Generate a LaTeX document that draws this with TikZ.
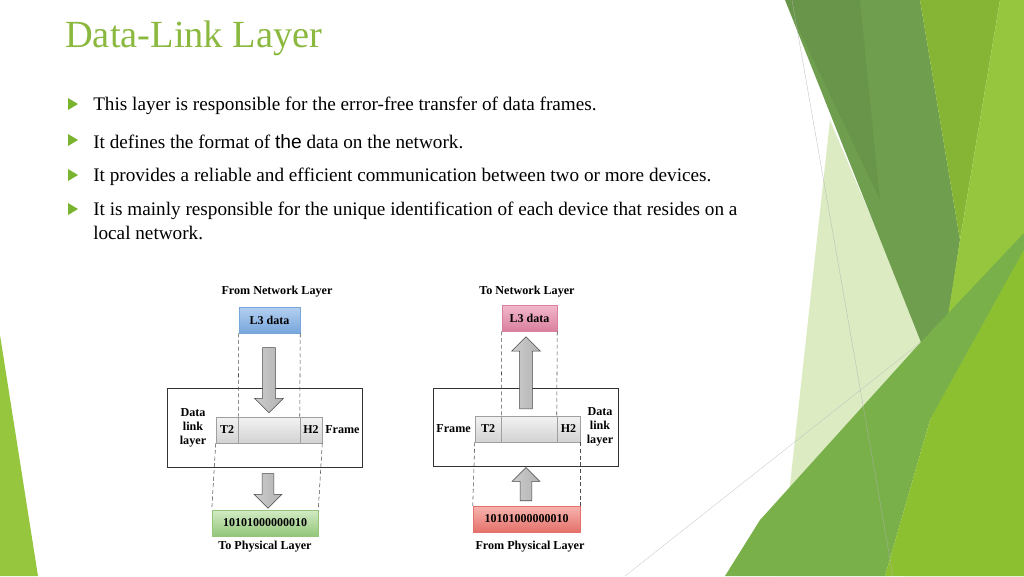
\documentclass[tikz,border=0pt]{standalone}
\usepackage{fontspec}
\setmainfont{Liberation Serif}
\usetikzlibrary{shapes.arrows}
\definecolor{titlegreen}{HTML}{8BB940}
\definecolor{bulletgreen}{HTML}{7AB32E}
\definecolor{bandpale}{HTML}{DCEBC2}
\definecolor{banddark}{HTML}{6E9E4E}
\definecolor{bandmid}{HTML}{86B535}
\definecolor{bandlime}{HTML}{96C63E}
\definecolor{bandlow}{HTML}{79B04A}
\definecolor{bandbright}{HTML}{8DC030}
\definecolor{bluetop}{HTML}{B4D0F0}
\definecolor{bluebot}{HTML}{77A6DC}
\definecolor{greentop}{HTML}{D3EBC4}
\definecolor{greenbot}{HTML}{93C67A}
\definecolor{pinktop}{HTML}{F2B8CC}
\definecolor{pinkbot}{HTML}{D9809F}
\definecolor{redtop}{HTML}{F8B4AE}
\definecolor{redbot}{HTML}{E4716B}
\tikzset{
x=0.75pt, y=-0.75pt, % one unit is one pixel of the slide
bullet/.style={anchor=west, font=\fontsize{14.4}{16}\selectfont, inner sep=0pt},
caption/.style={font=\bfseries\fontsize{9.1}{10.5}\selectfont, inner sep=0pt},
cell/.style={draw=gray!75, top color=gray!10, bottom color=gray!35, minimum height=19.5pt, inner sep=0pt, font=\bfseries\fontsize{9}{10}\selectfont},
databox/.style={draw=#1, minimum height=19.5pt, inner sep=0pt, font=\bfseries\fontsize{9}{10}\selectfont},
guide/.style={densely dashed, gray!60!black, thin},
fat arrow/.style={single arrow, draw=gray!55!black, left color=gray!40, right color=gray!60, inner sep=4.6pt, single arrow head extend=6pt, single arrow head indent=0pt},
}

\begin{document}
\begin{tikzpicture}
    \useasboundingbox (0,0) rectangle (1024,576);

    % slide decoration
    \fill[bandlime] (0,335) -- (38,576) -- (0,576) -- cycle;
    \fill[bandpale] (830,120) -- (925,345) -- (885,576) -- (780,576) -- cycle;
    \fill[banddark] (785,0) -- (920,0) -- (960,240) -- (938,385) -- cycle;
    \fill[black, opacity=0.05] (785,0) -- (860,0) -- (880,200) -- cycle;
    \fill[bandmid] (920,0) -- (1000,0) -- (960,240) -- cycle;
    \fill[bandlime] (1000,0) -- (1024,0) -- (1024,576) -- (905,576) -- (937,385) -- (960,240) -- cycle;
    \fill[bandlow] (760,520) -- (920,343) -- (1024,233) -- (1024,250) -- (930,420) -- (885,576) -- (725,576) -- cycle;
    \fill[bandbright] (1024,250) -- (1024,576) -- (885,576) -- (930,420) -- cycle;
    \draw[gray!60, very thin] (792,0) -- (893,576);
    \draw[gray!50, very thin] (625,576) -- (920,343);

    % title and bullet points
    \node[anchor=west, inner sep=0pt, text=titlegreen, font=\fontsize{28.8}{32}\selectfont] (title) at (65,38) {Data-Link Layer};
    \foreach \y/\txt [count=\i] in {104/{This layer is responsible for the error-free transfer of data frames.},
        140/{It defines the format of {\fontspec{Liberation Sans}the} data on the network.},
        175/{It provides a reliable and efficient communication between two or more devices.},
        209/{It is mainly responsible for the unique identification of each device that resides on a}}{
        \fill[bulletgreen] (68,\y-6) -- (78,\y) -- (68,\y+6) -- cycle;
        \node[bullet] (b\i) at (93,\y+1.5) {\txt};
    }
    \node[bullet] (b5) at (93,232.5) {local network.};

    % sending side
    \node[caption] (fromnet) at (277,292) {From Network Layer};
    \node[databox=bluebot, top color=bluetop, bottom color=bluebot, minimum width=45.75pt] (l3L) at (269.5,320) {L3 data};
    \draw[black!80] (167,388) rectangle (362,467);
    \node[cell, minimum width=79.5pt] (frameL) at (269,430) {};
    \node[cell, minimum width=16.5pt] (t2L) at (227,430) {T2};
    \node[cell, minimum width=16.5pt] (h2L) at (311,430) {H2};
    \node[caption, align=center] (dllL) at (193,428) {Data\\link\\layer};
    \node[caption, anchor=west] (frmL) at (325,430) {Frame};
    \node[databox=greenbot, top color=greentop, bottom color=greenbot, minimum width=79.5pt] (binL) at (265,523) {10101000000010};
    \node[caption] (tophy) at (265,547) {To Physical Layer};
    \node[fat arrow, minimum height=48.75pt, rotate=-90] (downA) at (269,377) {};
    \node[fat arrow, minimum height=26pt, rotate=-90, inner sep=4.2pt] (downB) at (268,488) {};
    \draw[guide] (l3L.south west) -- (t2L.north east);
    \draw[guide] (l3L.south east) -- (h2L.north west);
    \draw[guide] (t2L.south west) -- (binL.north west);
    \draw[guide] (h2L.south east) -- (binL.north east);

    % receiving side
    \node[caption] (tonet) at (527,292) {To Network Layer};
    \node[databox=pinkbot, top color=pinktop, bottom color=pinkbot, minimum width=41.25pt] (l3R) at (529.5,318) {L3 data};
    \draw[black!80] (433,388) rectangle (618,466);
    \node[cell, minimum width=78.75pt] (frameR) at (527.5,429) {};
    \node[cell, minimum width=19.5pt] (t2R) at (488,429) {T2};
    \node[cell, minimum width=17.25pt] (h2R) at (568.5,429) {H2};
    \node[caption, anchor=east] (frmR) at (471,429) {Frame};
    \node[caption, align=center] (dllR) at (600,427) {Data\\link\\layer};
    \node[databox=redbot, top color=redtop, bottom color=redbot, minimum width=80.25pt] (binR) at (526.5,519) {10101000000010};
    \node[caption] (fromphy) at (530,547) {From Physical Layer};
    \node[fat arrow, minimum height=54pt, rotate=90] (upA) at (526,376) {};
    \node[fat arrow, minimum height=25pt, rotate=90, inner sep=4.2pt] (upB) at (526,487) {};
    \draw[guide] (l3R.south west) -- (t2R.north east);
    \draw[guide] (l3R.south east) -- (h2R.north west);
    \draw[guide] (t2R.south west) -- (binR.north west);
    \draw[guide] (h2R.south east) -- (binR.north east);
\end{tikzpicture}
\end{document}
